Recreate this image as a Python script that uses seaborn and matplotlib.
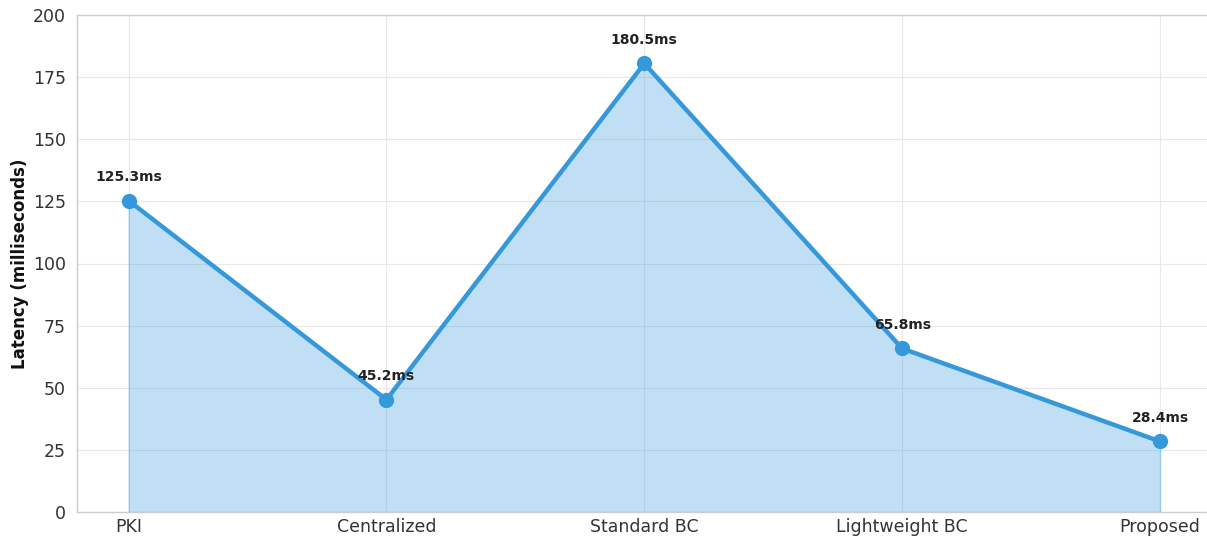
import matplotlib
matplotlib.use("Agg")
import matplotlib.pyplot as plt
import seaborn as sns
import pandas as pd

systems = ["PKI", "Centralized", "Standard BC", "Lightweight BC", "Proposed"]
latency_ms = [125.3, 45.2, 180.5, 65.8, 28.4]

sns.set_theme(style="whitegrid")
plt.rcParams["font.family"] = ["DejaVu Sans"]

df = pd.DataFrame({"system": systems, "latency": latency_ms})
color = "#3498db"

fig = plt.figure(figsize=(12.07, 5.40), dpi=100)
ax = fig.add_axes([77 / 1207, 28 / 540, (1211.6 - 77) / 1207, (512 - 15) / 540])

xs = list(range(len(systems)))
ax.fill_between(xs, df["latency"], color=color, alpha=0.3, zorder=1)
sns.lineplot(data=df, x="system", y="latency", ax=ax, color=color,
             linewidth=3.2, marker="o", markersize=11, markeredgewidth=0,
             sort=False, zorder=3)

for x, v in zip(xs, latency_ms):
    ax.annotate(f"{v}ms", (x, v), xytext=(0, 12), textcoords="offset points",
                ha="center", va="bottom", fontsize=10, fontweight="bold",
                color="#222222")

ax.set_xlim(-0.2, 4.2)
ax.set_ylim(0, 200)
ax.set_yticks(range(0, 201, 25))
ax.set_xlabel("")
ax.set_ylabel("Latency (milliseconds)", fontsize=12, fontweight="bold",
              color="#111111", labelpad=3)
ax.tick_params(axis="both", labelsize=12.5, colors="#333333", length=0)
ax.tick_params(axis="x", pad=4)
ax.tick_params(axis="y", pad=8)
ax.grid(True, color="#e8e8e8", linewidth=0.8)
for side in ["left", "bottom", "top", "right"]:
    ax.spines[side].set_color("#cccccc")
    ax.spines[side].set_linewidth(1.0)

fig.savefig("out.png", dpi=100, facecolor="white")
